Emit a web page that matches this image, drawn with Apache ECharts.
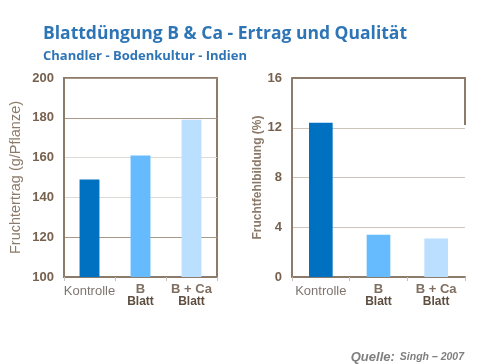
<!DOCTYPE html>
<html><head><meta charset="utf-8">
<script src="https://cdn.jsdelivr.net/npm/echarts@6/dist/echarts.min.js"></script>
<style>html,body{margin:0;padding:0;background:#fff}#c{width:485px;height:364px}</style>
</head><body><div id="c"></div>
<script>
const categories = ['Kontrolle', 'B\nBlatt', 'B + Ca\nBlatt'];
const yieldValues = [149, 161, 179];
const deformValues = [12.4, 3.4, 3.1];
const yieldTicks = [100, 200, 20];
const deformTicks = [0, 16, 4];
const barColors = ['#0070C0', '#66BBFF', '#BBDFFF'];

const brown = '#8C7B6B';
const tickText = '#76614F';
const chart = echarts.init(document.getElementById('c'), null, {renderer: 'canvas'});

function xLabel(v) {
  const parts = v.split('\n');
  if (parts.length === 1) return '{k|' + parts[0] + '}';
  return '{b|' + parts[0] + '}\n{s|' + parts[1] + '}';
}
const xRich = {
  k: {fontFamily: 'Liberation Sans', fontSize: 13, color: '#7F7570', padding: [2, 0, 0, 0]},
  b: {fontFamily: 'Liberation Sans', fontSize: 13, fontWeight: 'bold', color: '#7F6F62', lineHeight: 12},
  s: {fontFamily: 'Liberation Sans', fontSize: 12, fontWeight: 'bold', color: '#5E4E40', lineHeight: 13}
};
function xAxis(gi) {
  return {
    type: 'category', gridIndex: gi, data: categories,
    axisLine: {lineStyle: {color: brown, width: 2}},
    axisTick: {show: true, length: 4, lineStyle: {color: '#C8C0B8'}},
    axisLabel: {margin: 6, formatter: xLabel, rich: xRich, interval: 0}
  };
}

chart.setOption({
  animation: false,
  title: [
    {text: 'Blattdüngung B & Ca - Ertrag und Qualität', left: 38, top: 20,
     textStyle: {fontFamily: 'Open Sans', fontWeight: 'bold', fontSize: 17.5, color: '#2E75B6'}},
    {text: 'Chandler - Bodenkultur - Indien', left: 38, top: 45,
     textStyle: {fontFamily: 'Open Sans', fontWeight: 'bold', fontSize: 13, color: '#2E75B6'}},
    {text: '{q|Quelle:} {s|Singh – 2007}', right: 16, top: 343,
     textStyle: {rich: {
       q: {fontFamily: 'Liberation Sans', fontStyle: 'italic', fontSize: 13, color: '#7F7F7F'},
       s: {fontFamily: 'Liberation Sans', fontStyle: 'italic', fontWeight: 'bold', fontSize: 10.5, color: '#7F7F7F'}
     }}}
  ],
  grid: [
    {left: 64, top: 78, width: 153, height: 199, show: true, borderColor: brown, borderWidth: 2, backgroundColor: 'transparent'},
    {left: 292, top: 78, width: 173, height: 199}
  ],
  xAxis: [xAxis(0), xAxis(1)],
  yAxis: [
    {type: 'value', gridIndex: 0, min: yieldTicks[0], max: yieldTicks[1], interval: yieldTicks[2],
     name: 'Fruchtertrag (g/Pflanze)', nameLocation: 'middle', nameGap: 41,
     nameTextStyle: {fontFamily: 'Liberation Sans', fontSize: 14.5, color: brown},
     axisLine: {show: true, lineStyle: {color: brown, width: 2}},
     axisTick: {show: false},
     axisLabel: {margin: 10, fontFamily: 'Liberation Sans', fontWeight: 'bold', fontSize: 13, color: tickText},
     splitLine: {lineStyle: {color: ['#B8AA9C', '#A89888', '#DDDAD6', '#DDDAD6', '#A89888', '#A89888'], width: 1}}},
    {type: 'value', gridIndex: 1, min: deformTicks[0], max: deformTicks[1], interval: deformTicks[2],
     name: 'Fruchtfehlbildung (%)', nameLocation: 'middle', nameGap: 28,
     nameTextStyle: {fontFamily: 'Liberation Sans', fontWeight: 'bold', fontSize: 12, color: brown},
     axisLine: {show: true, lineStyle: {color: brown, width: 2}},
     axisTick: {show: false},
     axisLabel: {margin: 10, fontFamily: 'Liberation Sans', fontWeight: 'bold', fontSize: 13, color: tickText},
     splitLine: {lineStyle: {color: ['#B8AA9C', '#CFC4BA', '#CFC4BA', '#CFC4BA', '#A89888'], width: 1}}}
  ],
  series: [
    {type: 'bar', xAxisIndex: 0, yAxisIndex: 0, barWidth: '39%',
     data: yieldValues.map((v, i) => ({value: v, itemStyle: {color: barColors[i]}}))},
    {type: 'bar', xAxisIndex: 1, yAxisIndex: 1, barWidth: '41%',
     data: deformValues.map((v, i) => ({value: v, itemStyle: {color: barColors[i]}}))}
  ],
  graphic: [
    {type: 'line', shape: {x1: 292, y1: 78, x2: 466, y2: 78}, style: {stroke: brown, lineWidth: 2}, z: 10},
    {type: 'line', shape: {x1: 465, y1: 77, x2: 465, y2: 125}, style: {stroke: brown, lineWidth: 2}, z: 10}
  ]
});
</script></body></html>
